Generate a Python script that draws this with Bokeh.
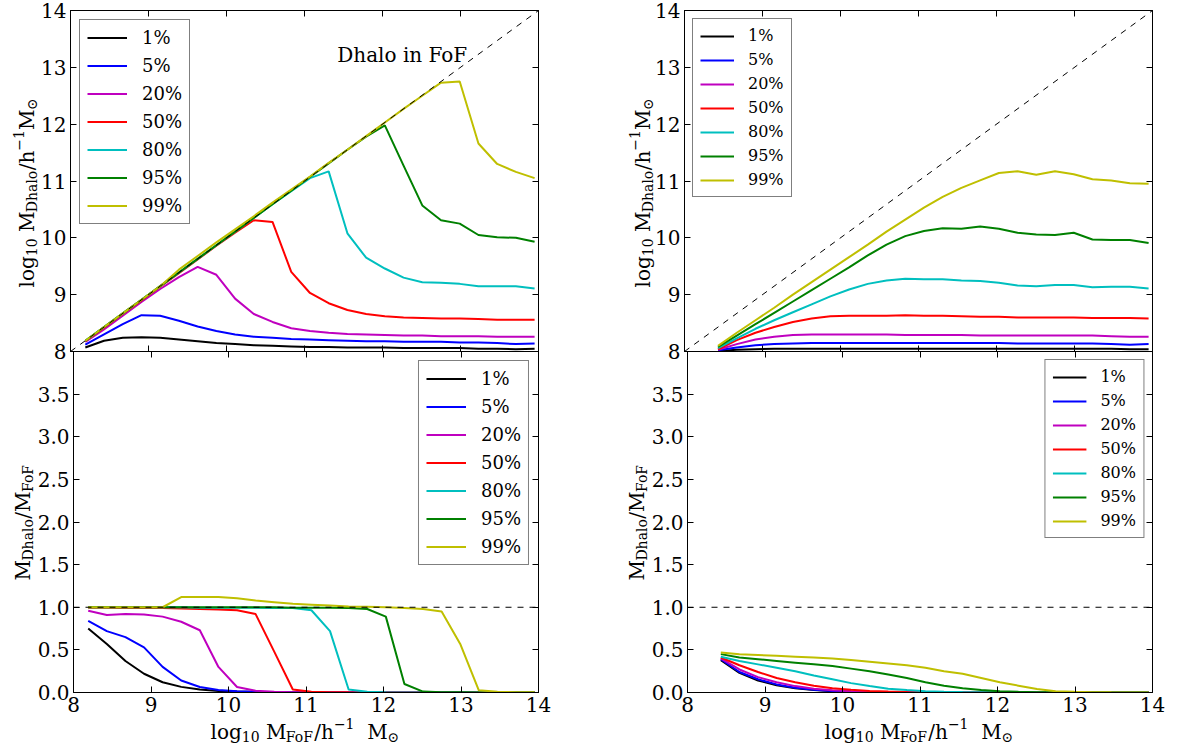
import math
from bokeh.plotting import figure
from bokeh.models import (Range1d, LinearAxis, FixedTicker, Label, PrintfTickFormatter,
                          CustomLabelingPolicy)
from bokeh.core.properties import value
from bokeh.layouts import column, row
from bokeh.embed import file_html
from bokeh.resources import INLINE

FONT = "DejaVu Serif"

# ---------------- data ----------------
percent_labels = ["1%", "5%", "20%", "50%", "80%", "95%", "99%"]
line_colors = ["#000000", "#0000ff", "#bf00bf", "#ff0000", "#00bfbf", "#008000", "#bfbf00"]

x_ticks = [8, 9, 10, 11, 12, 13, 14]
mass_ticks = [8, 9, 10, 11, 12, 13, 14]
ratio_ticks = [0.0, 0.5, 1.0, 1.5, 2.0, 2.5, 3.0, 3.5]
one_to_one = [8, 14]
unity_x = [8, 14]
unity_y = [1.0, 1.0]

# bin centres, log10 M_FoF
x_left = [8.19, 8.43, 8.67, 8.91, 9.15, 9.39, 9.63, 9.87, 10.11, 10.35, 10.59, 10.83, 11.07,
          11.31, 11.55, 11.79, 12.03, 12.27, 12.51, 12.75, 12.99, 13.23, 13.47, 13.71, 13.95]
x_right = [8.43, 8.67, 8.91, 9.15, 9.39, 9.63, 9.87, 10.11, 10.35, 10.59, 10.83, 11.07,
           11.31, 11.55, 11.79, 12.03, 12.27, 12.51, 12.75, 12.99, 13.23, 13.47, 13.71, 13.95]

# left top: log10 M_Dhalo (Dhalo in FoF)
lt_p01 = [8.07, 8.19, 8.24, 8.25, 8.24, 8.21, 8.18, 8.15, 8.13, 8.11, 8.10, 8.09, 8.08,
          8.08, 8.07, 8.07, 8.07, 8.06, 8.06, 8.06, 8.06, 8.05, 8.05, 8.04, 8.05]
lt_p05 = [8.12, 8.30, 8.48, 8.64, 8.63, 8.54, 8.44, 8.36, 8.30, 8.26, 8.24, 8.22, 8.21,
          8.20, 8.19, 8.18, 8.18, 8.17, 8.17, 8.17, 8.16, 8.16, 8.15, 8.13, 8.14]
lt_p20 = [8.17, 8.39, 8.63, 8.87, 9.10, 9.31, 9.49, 9.35, 8.93, 8.66, 8.52, 8.41, 8.36,
          8.33, 8.31, 8.30, 8.29, 8.28, 8.28, 8.27, 8.27, 8.27, 8.26, 8.26, 8.26]
lt_p50 = [8.18, 8.42, 8.66, 8.90, 9.14, 9.38, 9.62, 9.86, 10.09, 10.31, 10.28, 9.40, 9.03,
          8.85, 8.73, 8.66, 8.62, 8.60, 8.59, 8.58, 8.58, 8.57, 8.56, 8.56, 8.56]
lt_p80 = [8.19, 8.43, 8.67, 8.91, 9.15, 9.39, 9.63, 9.87, 10.11, 10.35, 10.59, 10.82, 11.05,
          11.17, 10.08, 9.65, 9.46, 9.30, 9.22, 9.21, 9.19, 9.15, 9.15, 9.15, 9.11]
lt_p95 = [8.19, 8.43, 8.67, 8.91, 9.15, 9.39, 9.63, 9.87, 10.11, 10.35, 10.59, 10.83, 11.07,
          11.31, 11.55, 11.78, 11.98, 11.27, 10.57, 10.31, 10.25, 10.05, 10.01, 10.00, 9.93]
lt_p99 = [8.19, 8.43, 8.67, 8.91, 9.15, 9.44, 9.68, 9.92, 10.15, 10.38, 10.62, 10.85, 11.08,
          11.32, 11.55, 11.79, 12.03, 12.27, 12.50, 12.73, 12.75, 11.66, 11.30, 11.16, 11.05]

# left bottom: M_Dhalo / M_FoF
lb_p01 = [0.75, 0.57, 0.37, 0.22, 0.12, 0.066, 0.035, 0.019, 0.011, 0.006, 0.0032, 0.0018, 0.001,
          0.0006, 0.0003, 0.0002, 0.0001, 0.0001, 0.0, 0.0, 0.0, 0.0, 0.0, 0.0, 0.0]
lb_p05 = [0.84, 0.72, 0.65, 0.53, 0.30, 0.14, 0.065, 0.03, 0.015, 0.008, 0.0045, 0.0025, 0.0014,
          0.0008, 0.0004, 0.0002, 0.0001, 0.0001, 0.0, 0.0, 0.0, 0.0, 0.0, 0.0, 0.0]
lb_p20 = [0.96, 0.91, 0.92, 0.915, 0.89, 0.83, 0.73, 0.30, 0.065, 0.02, 0.008, 0.004, 0.002,
          0.001, 0.0006, 0.0003, 0.0002, 0.0001, 0.0, 0.0, 0.0, 0.0, 0.0, 0.0, 0.0]
lb_p50 = [0.995, 0.995, 0.99, 0.99, 0.99, 0.985, 0.98, 0.975, 0.965, 0.92, 0.48, 0.035, 0.01,
          0.004, 0.0015, 0.0007, 0.0004, 0.0002, 0.0001, 0.0, 0.0, 0.0, 0.0, 0.0, 0.0]
lb_p80 = [1.0, 1.0, 1.0, 1.0, 1.0, 1.0, 0.995, 0.995, 0.995, 0.995, 0.99, 0.99, 0.965,
          0.72, 0.035, 0.008, 0.003, 0.001, 0.0005, 0.0003, 0.0002, 0.0001, 0.0, 0.0, 0.0]
lb_p95 = [1.0, 1.0, 1.0, 1.0, 1.0, 1.0, 1.0, 1.0, 1.0, 1.0, 1.0, 0.995, 0.995,
          0.995, 0.99, 0.98, 0.89, 0.10, 0.011, 0.004, 0.002, 0.0007, 0.0003, 0.0002, 0.0001]
lb_p99 = [1.0, 1.0, 1.0, 1.0, 1.0, 1.12, 1.12, 1.12, 1.105, 1.08, 1.06, 1.04, 1.03,
          1.02, 1.01, 1.005, 1.0, 0.99, 0.98, 0.95, 0.57, 0.025, 0.008, 0.004, 0.002]

# right top: log10 M_Dhalo
rt_p01 = [8.01, 8.03, 8.04, 8.05, 8.05, 8.05, 8.05, 8.05, 8.05, 8.05, 8.05, 8.05,
          8.05, 8.05, 8.05, 8.05, 8.05, 8.05, 8.05, 8.05, 8.05, 8.05, 8.04, 8.04]
rt_p05 = [8.02, 8.07, 8.11, 8.13, 8.14, 8.15, 8.15, 8.15, 8.15, 8.15, 8.15, 8.15,
          8.15, 8.15, 8.15, 8.15, 8.14, 8.14, 8.14, 8.14, 8.14, 8.13, 8.12, 8.13]
rt_p20 = [8.03, 8.13, 8.21, 8.26, 8.29, 8.30, 8.30, 8.30, 8.30, 8.30, 8.29, 8.29,
          8.29, 8.29, 8.28, 8.28, 8.28, 8.28, 8.28, 8.28, 8.28, 8.27, 8.26, 8.26]
rt_p50 = [8.04, 8.20, 8.33, 8.43, 8.52, 8.58, 8.62, 8.63, 8.63, 8.63, 8.64, 8.63,
          8.63, 8.62, 8.61, 8.61, 8.60, 8.60, 8.60, 8.60, 8.59, 8.59, 8.59, 8.58]
rt_p80 = [8.06, 8.23, 8.40, 8.55, 8.69, 8.83, 8.97, 9.09, 9.19, 9.25, 9.28, 9.27,
          9.27, 9.25, 9.24, 9.21, 9.16, 9.15, 9.17, 9.17, 9.13, 9.14, 9.14, 9.11]
rt_p95 = [8.08, 8.28, 8.48, 8.68, 8.88, 9.08, 9.28, 9.48, 9.69, 9.88, 10.03, 10.12,
          10.17, 10.16, 10.20, 10.16, 10.09, 10.06, 10.05, 10.09, 9.97, 9.96, 9.96, 9.91]
rt_p99 = [8.10, 8.33, 8.55, 8.77, 9.00, 9.22, 9.44, 9.66, 9.88, 10.11, 10.32, 10.53,
          10.72, 10.88, 11.01, 11.14, 11.17, 11.11, 11.17, 11.12, 11.03, 11.01, 10.96, 10.95]

# right bottom: M_Dhalo / M_FoF
rb_p01 = [0.38, 0.23, 0.14, 0.085, 0.05, 0.028, 0.016, 0.009, 0.005, 0.003, 0.0017, 0.001,
          0.0006, 0.0003, 0.0002, 0.0001, 0.0, 0.0, 0.0, 0.0, 0.0, 0.0, 0.0, 0.0]
rb_p05 = [0.39, 0.24, 0.155, 0.095, 0.057, 0.033, 0.019, 0.011, 0.006, 0.0035, 0.002, 0.0012,
          0.0007, 0.0004, 0.0002, 0.0001, 0.0, 0.0, 0.0, 0.0, 0.0, 0.0, 0.0, 0.0]
rb_p20 = [0.40, 0.27, 0.18, 0.12, 0.075, 0.045, 0.026, 0.015, 0.009, 0.005, 0.003, 0.0017,
          0.001, 0.0006, 0.0003, 0.0002, 0.0001, 0.0, 0.0, 0.0, 0.0, 0.0, 0.0, 0.0]
rb_p50 = [0.41, 0.32, 0.24, 0.17, 0.12, 0.08, 0.05, 0.032, 0.019, 0.011, 0.007, 0.004,
          0.0022, 0.0012, 0.0007, 0.0004, 0.0002, 0.0001, 0.0, 0.0, 0.0, 0.0, 0.0, 0.0]
rb_p80 = [0.42, 0.37, 0.33, 0.29, 0.25, 0.20, 0.155, 0.11, 0.075, 0.045, 0.028, 0.016,
          0.009, 0.005, 0.003, 0.0015, 0.0008, 0.0004, 0.0002, 0.0001, 0.0, 0.0, 0.0, 0.0]
rb_p95 = [0.45, 0.41, 0.39, 0.37, 0.35, 0.33, 0.31, 0.28, 0.25, 0.21, 0.17, 0.12,
          0.08, 0.05, 0.03, 0.015, 0.008, 0.004, 0.002, 0.0013, 0.0006, 0.0003, 0.0002, 0.0001]
rb_p99 = [0.47, 0.45, 0.44, 0.43, 0.42, 0.41, 0.40, 0.38, 0.36, 0.34, 0.32, 0.29,
          0.25, 0.22, 0.17, 0.12, 0.08, 0.04, 0.015, 0.008, 0.004, 0.002, 0.001, 0.001]

left_top = [lt_p01, lt_p05, lt_p20, lt_p50, lt_p80, lt_p95, lt_p99]
left_bottom = [lb_p01, lb_p05, lb_p20, lb_p50, lb_p80, lb_p95, lb_p99]
right_top = [rt_p01, rt_p05, rt_p20, rt_p50, rt_p80, rt_p95, rt_p99]
right_bottom = [rb_p01, rb_p05, rb_p20, rb_p50, rb_p80, rb_p95, rb_p99]

# ---------------- layout constants (pixels) ----------------
FRAME_H = 341
TOP_B = 10          # space above top frames
OVB = 16            # top figures extend below their frame (room for the "8" label)
BOT_B = 55          # space below bottom frames
YL_W = 50           # width of the y-title strips
OVL = 16            # panels overlap the y-title strips by this much
TOP_H = TOP_B + FRAME_H + OVB
BOT_H = FRAME_H + BOT_B
ROW2_Y = TOP_B + FRAME_H   # canvas y where the bottom row starts

# ---------------- helpers ----------------
CHAR_W = {'l': 0.320, 'o': 0.602, 'g': 0.640, 'M': 0.995, 'D': 0.830, 'h': 0.644,
          'a': 0.596, 'F': 0.715, '/': 0.337, '0': 0.636, '1': 0.636, '\u2212': 0.838,
          '\u2299': 0.838, ' ': 0.318}


def text_w(t, size):
    return sum(CHAR_W.get(c, 0.6) for c in t) * size


def title_strip(width, height):
    f = figure(frame_width=width, frame_height=height, title=None,
               x_range=Range1d(0, width), y_range=Range1d(0, height),
               output_backend="svg", toolbar_location=None, x_axis_type=None, y_axis_type=None,
               min_border_left=0, min_border_right=0, min_border_top=0, min_border_bottom=0)
    f.outline_line_color = None
    f.background_fill_alpha = 0.0
    f.border_fill_alpha = 0.0
    return f


def rich_text(f, segs, x0, y0, vertical, H):
    """Write a title made of pieces (sub/superscripts); x0, y0 = start of the
    baseline in the strip's pixels, measured from its top-left corner."""
    pos = 0.0
    for t, size, shift in segs:
        if t.strip():
            if vertical:
                cx, cy = x0 - shift, y0 - pos
            else:
                cx, cy = x0 + pos, y0 - shift
            f.text(x=[cx], y=[H - cy], text=[t], angle=(math.pi / 2 if vertical else 0.0),
                   text_font=value(FONT), text_font_size=value(f"{size}px"),
                   text_color="black", text_align="left", text_baseline="alphabetic")
        pos += text_w(t, size)


B, S = 20, 14
ylab_mass = [("log", B, 0), ("10", S, -5), (" ", B, 0), ("M", B, 0), ("Dhalo", S, -5),
             ("/h", B, 0), ("\u22121", S, 8), ("M", B, 0), ("\u2299", S, -5)]
ylab_ratio = [("M", B, 0), ("Dhalo", S, -5), ("/M", B, 0), ("FoF", S, -5)]
xlab = [("log", B, 0), ("10", S, -5), (" ", B, 0), ("M", B, 0), ("FoF", S, -5),
        ("/h", B, 0), ("\u22121", S, 8), ("  ", B, 0), ("M", B, 0), ("\u2299", S, -5)]


def style_axis(ax, ticks, show_labels, fmt=None):
    ax.ticker = FixedTicker(ticks=ticks)
    ax.minor_tick_line_color = None
    ax.major_tick_in = 6
    ax.major_tick_out = 0
    ax.major_tick_line_color = "black"
    ax.major_tick_line_width = 1
    ax.axis_line_color = "black"
    ax.axis_line_width = 1
    ax.axis_label = None
    ax.major_label_text_font = FONT
    ax.major_label_text_color = "black"
    if show_labels:
        ax.major_label_text_font_size = "20px"
        ax.major_label_standoff = 4
        if fmt:
            ax.formatter = PrintfTickFormatter(format=fmt)
    else:
        ax.major_label_text_font_size = "0px"
        ax.major_label_standoff = 0
        ax.major_label_policy = CustomLabelingPolicy(code="return []")


def make_panel(width, height, border, yr, yticks, is_top, fmt=None):
    p = figure(width=width, height=height, x_range=Range1d(8, 14), y_range=Range1d(*yr),
               output_backend="svg", toolbar_location=None,
               min_border_left=border[0], min_border_right=border[1],
               min_border_top=border[2], min_border_bottom=border[3])
    p.xgrid.visible = False
    p.ygrid.visible = False
    p.outline_line_color = "black"
    p.outline_line_width = 1
    p.background_fill_alpha = 0.0
    p.border_fill_alpha = 0.0
    style_axis(p.xaxis[0], x_ticks, not is_top)
    style_axis(p.yaxis[0], yticks, True, fmt)
    top_ax = LinearAxis()
    style_axis(top_ax, x_ticks, False)
    p.add_layout(top_ax, "above")
    right_ax = LinearAxis()
    style_axis(right_ax, yticks, False)
    p.add_layout(right_ax, "right")
    p.margin = (0, 0, 0, -OVL)
    return p


def style_legend(p, loc, font_px, gw, gh, standoff, spacing, pad, margin):
    lg = p.legend[0]
    lg.location = loc
    lg.label_text_font = FONT
    lg.label_text_font_size = f"{font_px}px"
    lg.label_text_color = "black"
    lg.glyph_width = gw
    lg.glyph_height = gh
    lg.label_height = gh
    lg.label_standoff = standoff
    lg.spacing = spacing
    lg.padding = pad
    lg.margin = margin
    lg.border_line_color = "black"
    lg.border_line_width = 1
    lg.background_fill_color = "white"
    lg.background_fill_alpha = 1.0


# ---------------- panels ----------------
# left panels: frame x 70..538 ; right panels: frame x 684..1152
LB = 70 - (YL_W - OVL)
WL = 614 - YL_W + OVL
WR = 584 - YL_W + OVL
p1 = make_panel(WL, TOP_H, (LB, 76, TOP_B, OVB), (8, 14), mass_ticks, True)
p2 = make_panel(WR, TOP_H, (LB, 46, TOP_B, OVB), (8, 14), mass_ticks, True)
p3 = make_panel(WL, BOT_H, (LB, 76, 0, BOT_B), (0, 4), ratio_ticks, False, "%.1f")
p4 = make_panel(WR, BOT_H, (LB, 46, 0, BOT_B), (0, 4), ratio_ticks, False, "%.1f")

for ys, lab, col in zip(left_top, percent_labels, line_colors):
    p1.line(x_left, ys, line_color=col, line_width=2, legend_label=lab)
for ys, lab, col in zip(left_bottom, percent_labels, line_colors):
    p3.line(x_left, ys, line_color=col, line_width=2, legend_label=lab)
for ys, lab, col in zip(right_top, percent_labels, line_colors):
    p2.line(x_right, ys, line_color=col, line_width=2, legend_label=lab)
for ys, lab, col in zip(right_bottom, percent_labels, line_colors):
    p4.line(x_right, ys, line_color=col, line_width=2, legend_label=lab)

for p in (p1, p2):
    p.line(one_to_one, one_to_one, line_color="black", line_width=1, line_dash="6 6")
for p in (p3, p4):
    p.line(unity_x, unity_y, line_color="black", line_width=1, line_dash="6 6")

style_legend(p1, "top_left", 18, 40, 21, 15, 7, 7, 9)
style_legend(p3, "top_right", 18, 40, 21, 15, 7, 7, 9)
style_legend(p2, "top_left", 16, 34, 18, 14, 5, 7, 8)
style_legend(p4, "top_right", 16, 34, 18, 14, 5, 7, 8)

p1.add_layout(Label(x=11.42, y=13.21, text="Dhalo in FoF", text_font=FONT,
                    text_font_size="20px", text_color="black", text_baseline="alphabetic"))

# ---------------- axis titles (strips beside / below the panels) ----------------
yl1 = title_strip(YL_W, TOP_H)
yl2 = title_strip(YL_W, TOP_H)
yl3 = title_strip(YL_W, BOT_H)
yl4 = title_strip(YL_W, BOT_H)
xl3 = title_strip(614, BOT_B)
xl4 = title_strip(584, BOT_B)

rich_text(yl1, ylab_mass, 26, 277, True, TOP_H)
rich_text(yl2, ylab_mass, 28, 277, True, TOP_H)
rich_text(yl3, ylab_ratio, 22, 580 - ROW2_Y, True, BOT_H)
rich_text(yl4, ylab_ratio, 22, 580 - ROW2_Y, True, BOT_H)
rich_text(xl3, xlab, 210, 39, False, BOT_B)
rich_text(xl4, xlab, 210, 39, False, BOT_B)

row1 = row(yl1, p1, yl2, p2)
row2 = row(yl3, p3, yl4, p4)
row2.margin = (-OVB, 0, 0, 0)
row3 = row(xl3, xl4)
row3.margin = (-BOT_B, 0, 0, 0)
layout = column(row1, row2, row3)
open("out.html", "w").write(file_html(layout, INLINE))
